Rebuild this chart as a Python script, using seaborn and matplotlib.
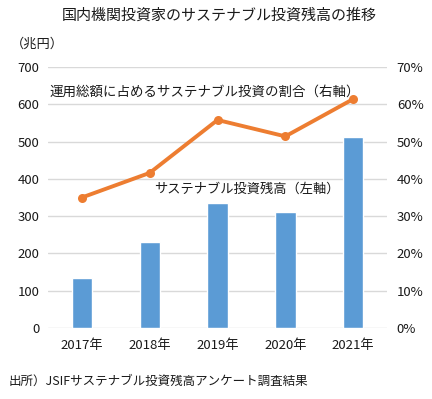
import numpy as np
import matplotlib
matplotlib.use("Agg")
import matplotlib.pyplot as plt
from matplotlib.ticker import PercentFormatter
import seaborn as sns

years = ["2017年", "2018年", "2019年", "2020年", "2021年"]
balance = [133, 231, 334, 310, 513]          # 兆円 (left axis)
share = [35.0, 41.6, 55.8, 51.4, 61.4]       # % (right axis)

BAR_COLOR = "#5B9BD5"
LINE_COLOR = "#ED7D31"
GRID_COLOR = "#D9D9D9"
TEXT_COLOR = "#1a1a1a"

sns.set_style("white")
plt.rcParams["font.family"] = ["Noto Sans CJK JP", "DejaVu Sans"]
plt.rcParams["text.color"] = TEXT_COLOR
plt.rcParams["xtick.color"] = TEXT_COLOR
plt.rcParams["ytick.color"] = TEXT_COLOR

fig = plt.figure(figsize=(4.32, 3.99), dpi=100)
ax = fig.add_axes([0.111, 0.178, 0.785, 0.654])

sns.barplot(x=years, y=balance, color=BAR_COLOR, width=0.3, saturation=1, ax=ax, zorder=2)
ax.set_ylim(0, 700)
ax.set_yticks(np.arange(0, 701, 100))
ax.yaxis.grid(True, color=GRID_COLOR, linewidth=1)
ax.set_axisbelow(True)
ax.set_xlabel("")
ax.set_ylabel("")
ax.tick_params(axis="both", length=0, labelsize=9.5, pad=6)
ax.tick_params(axis="x", pad=8)
for s in ax.spines.values():
    s.set_visible(False)

ax2 = ax.twinx()
sns.lineplot(x=np.arange(len(years)), y=share, color=LINE_COLOR, marker="o",
             markersize=6.5, markeredgewidth=0, linewidth=2.8, ax=ax2)
ax2.set_ylim(0, 70)
ax2.set_yticks(np.arange(0, 71, 10))
ax2.yaxis.set_major_formatter(PercentFormatter(decimals=0))
ax2.tick_params(axis="y", length=0, labelsize=9.5, pad=7)
ax2.set_ylabel("")
for s in ax2.spines.values():
    s.set_visible(False)
ax.set_xlim(-0.5, len(years) - 0.5)

fig.text(0.507, 0.962, "国内機関投資家のサステナブル投資残高の推移", ha="center", va="center", fontsize=10.8)
fig.text(0.025, 0.89, "（兆円）", ha="left", va="center", fontsize=9.5)
ax.text(0.005, 0.905, "運用総額に占めるサステナブル投資の割合（右軸）", transform=ax.transAxes,
        ha="left", va="center", fontsize=9.7)
ax.text(0.312, 0.53, "サステナブル投資残高（左軸）", transform=ax.transAxes,
        ha="left", va="center", fontsize=9.5)
fig.text(0.02, 0.045, "出所）JSIFサステナブル投資残高アンケート調査結果", ha="left", va="center", fontsize=9)

fig.savefig("out.png", dpi=100)
